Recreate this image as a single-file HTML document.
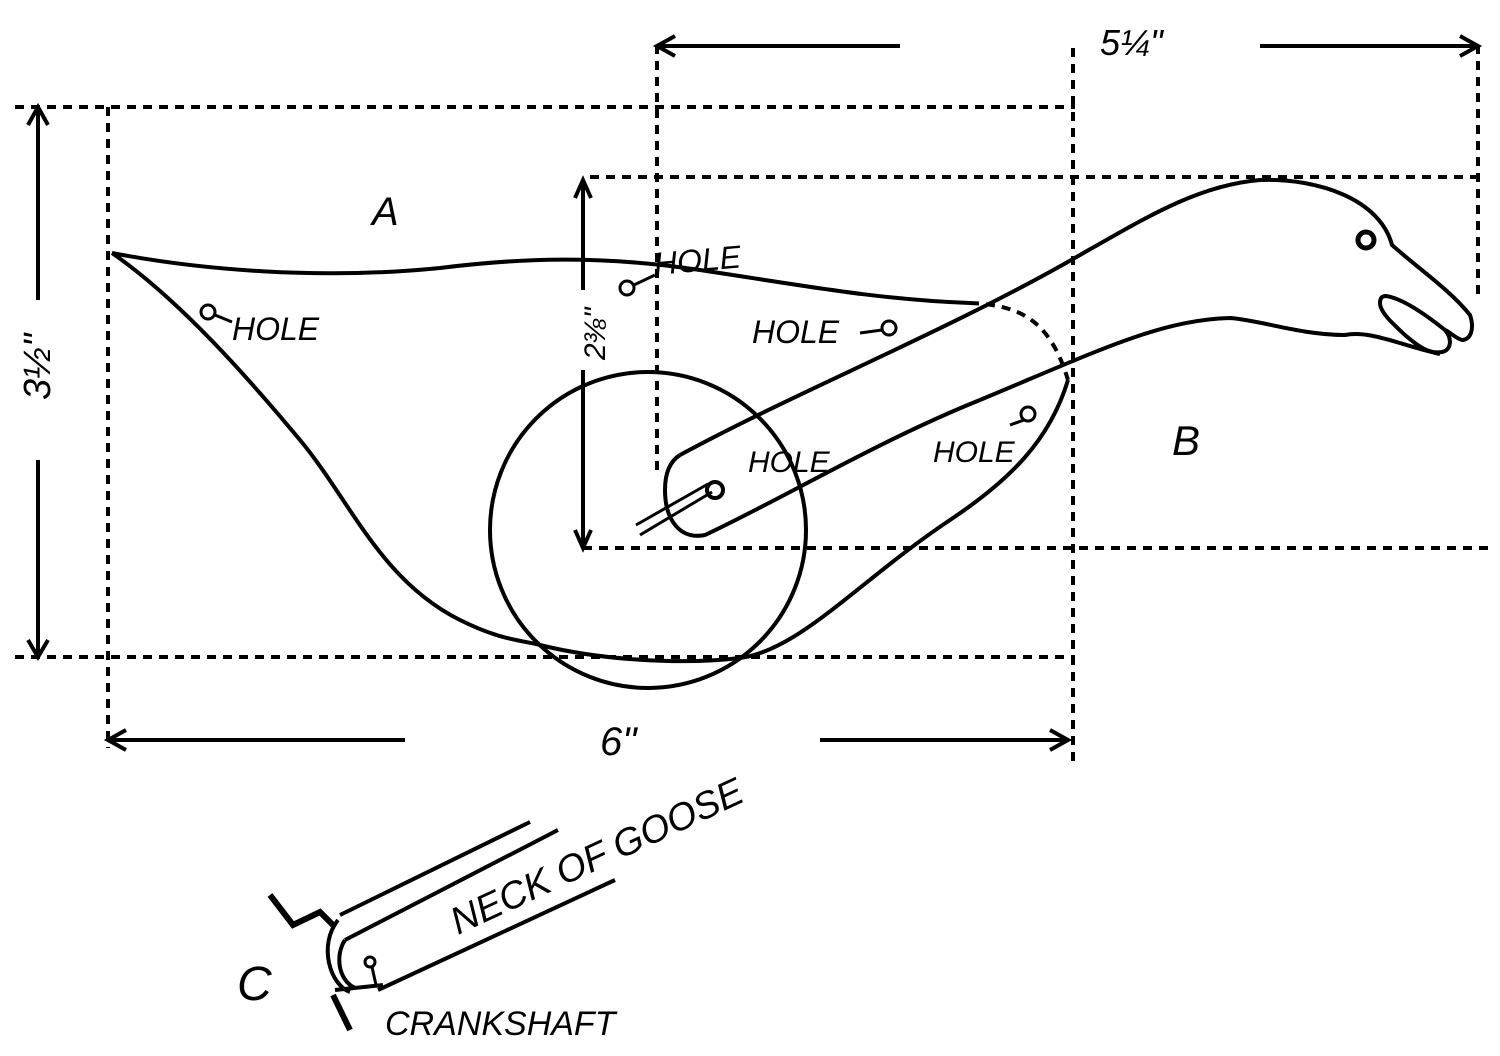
<!DOCTYPE html>
<html><head><style>html,body{margin:0;padding:0;background:#fff}svg{display:block}
text{font-family:"Liberation Sans",sans-serif;font-style:italic;fill:#000}</style></head>
<body>
<svg width="1500" height="1056" viewBox="0 0 1500 1056" xmlns="http://www.w3.org/2000/svg">
<g stroke="#000" stroke-width="4" fill="none" stroke-dasharray="9,7">
<line x1="15" y1="107" x2="1075" y2="107"/>
<line x1="108" y1="107" x2="108" y2="748"/>
<line x1="15" y1="657" x2="1075" y2="657"/>
<line x1="1073" y1="48" x2="1073" y2="762"/>
<line x1="657" y1="45" x2="657" y2="470"/>
<line x1="590" y1="177" x2="1480" y2="177"/>
<line x1="1478" y1="45" x2="1478" y2="300"/>
<line x1="583" y1="548" x2="1492" y2="548"/>
<path d="M970,303 C1020,305 1050,320 1068,380"/>
</g>
<g stroke="#000" stroke-width="4" fill="none">
<line x1="657" y1="46" x2="900" y2="46"/><path d="M675,36 L657,46 L675,56"/>
<line x1="1260" y1="46" x2="1478" y2="46"/><path d="M1460,36 L1478,46 L1460,56"/>
<line x1="38" y1="107" x2="38" y2="300"/><line x1="38" y1="460" x2="38" y2="657"/>
<path d="M28,125 L38,107 L48,125"/><path d="M28,640 L38,657 L48,640"/>
<line x1="108" y1="740" x2="405" y2="740"/><path d="M126,730 L108,740 L126,750"/>
<line x1="820" y1="740" x2="1068" y2="740"/><path d="M1050,730 L1068,740 L1050,750"/>
<line x1="583" y1="180" x2="583" y2="290"/><line x1="583" y1="370" x2="583" y2="548"/>
<path d="M575,198 L583,180 L591,198"/><path d="M575,530 L583,548 L591,530"/>
<path d="M112,253 C200,270 320,280 440,268 C520,258 600,255 700,270 C800,285 880,300 970,303"/>
<path d="M112,253 C180,300 250,380 300,440 C350,500 380,580 460,620 C500,640 520,640 540,645 C600,660 680,665 740,658 C800,650 860,580 950,520 C1010,480 1050,440 1068,380"/>
<circle cx="648" cy="530" r="158"/>
<path d="M680,455 C800,390 950,330 1080,255 C1150,215 1200,185 1260,180 C1320,178 1380,200 1392,245 C1420,270 1450,290 1470,315 C1475,330 1470,340 1462,340 C1455,338 1450,332 1445,330"/>
<path d="M1386,296 C1400,298 1420,310 1445,330 C1452,338 1452,350 1442,352 C1430,354 1420,348 1405,335 C1392,323 1380,312 1380,303 C1380,298 1382,296 1386,296Z"/>
<path d="M1440,354 C1400,345 1370,330 1345,335 C1300,335 1260,320 1230,318 C1160,320 1100,350 980,400 C880,440 780,500 705,535 C680,540 665,520 665,490 C665,470 672,460 680,455"/>
<circle cx="1366" cy="240" r="8" stroke-width="5"/>
<line x1="640" y1="535" x2="712" y2="492" stroke-width="3"/>
<line x1="636" y1="525" x2="708" y2="484" stroke-width="3"/>
<circle cx="715" cy="490" r="8"/>
<circle cx="208" cy="312" r="7" stroke-width="3"/><line x1="215" y1="315" x2="232" y2="322" stroke-width="3"/>
<circle cx="627" cy="288" r="7" stroke-width="3"/><line x1="634" y1="285" x2="655" y2="275" stroke-width="3"/>
<circle cx="889" cy="328" r="7" stroke-width="3"/><line x1="860" y1="333" x2="882" y2="330" stroke-width="3"/>
<circle cx="1028" cy="414" r="7" stroke-width="3"/><line x1="1010" y1="425" x2="1024" y2="420" stroke-width="3"/>
<path d="M270,895 L293,925 L320,912 L333,925" stroke-width="6"/>
<path d="M333,995 L350,1030" stroke-width="6"/>
<path d="M335,990 L383,985"/>
<line x1="340" y1="915" x2="530" y2="822"/>
<line x1="345" y1="940" x2="558" y2="830"/>
<line x1="378" y1="990" x2="615" y2="880"/>
<path d="M338,920 C318,945 330,985 350,992"/>
<path d="M345,940 C335,955 338,980 355,988"/>
<circle cx="370" cy="962" r="5" stroke-width="3"/><path d="M372,967 L376,985" stroke-width="3"/>
</g>
<text x="372" y="225" font-size="40">A</text>
<text x="1172" y="455" font-size="42">B</text>
<text x="1100" y="55" font-size="36">5¼"</text>
<text x="600" y="755" font-size="40">6"</text>
<text transform="translate(50,400) rotate(-90)" font-size="38">3½"</text>
<text transform="translate(605,360) rotate(-90)" font-size="30">2⅜"</text>
<text x="232" y="340" font-size="32">HOLE</text>
<text x="655" y="275" font-size="32" transform="rotate(-5 655 275)">HOLE</text>
<text x="752" y="343" font-size="32">HOLE</text>
<text x="748" y="472" font-size="30">HOLE</text>
<text x="933" y="462" font-size="30">HOLE</text>
<text x="237" y="1000" font-size="48">C</text>
<text x="385" y="1035" font-size="34">CRANKSHAFT</text>
<text transform="translate(458,935) rotate(-25)" font-size="38">NECK OF GOOSE</text>
</svg>
</body></html>
